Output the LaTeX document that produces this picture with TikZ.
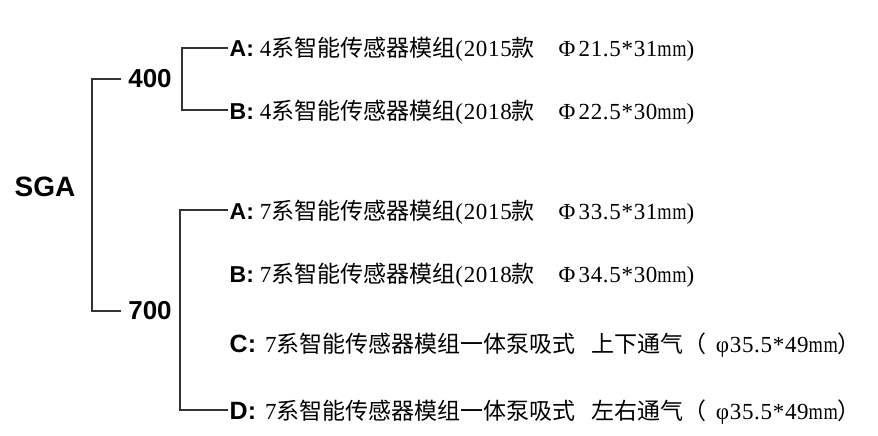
\documentclass[tikz,border=0pt]{standalone}
\usepackage{fontspec}
\setmainfont{Liberation Serif}[LetterSpace=3]
\setsansfont{Liberation Sans}
\newfontfamily\cjk{Noto Sans CJK SC}
\usetikzlibrary{positioning}

\newcommand\zh[1]{{\cjk #1}}
\newcommand\mm{\scalebox{.8}[1]{mm}}
\newcommand\phibox{\makebox[1em]{Φ}}
\newcommand\tagab[1]{{\sffamily\bfseries #1:}\hspace{6pt}}
\newcommand\tagcd[1]{{\sffamily\bfseries\fontsize{25}{25}\selectfont #1:}\hspace{9pt}}

\tikzset{
  branch/.style={draw=black!80, line width=1.1pt},
  level/.style={inner sep=0pt, font=\sffamily\bfseries\fontsize{26}{26}\selectfont},
  item/.style={anchor=west, inner xsep=1.5pt, inner ysep=0pt, text height=18pt, text depth=0pt, font=\fontsize{23}{23}\selectfont},
}

\begin{document}
\begin{tikzpicture}[x=1pt,y=-1pt]
  \useasboundingbox (0,0) rectangle (878,436);
  % tree levels
  \node[level, font=\sffamily\bfseries\fontsize{28}{28}\selectfont] (sga) at (45,187) {SGA};
  \node[level] (n400) at (150,79) {400};
  \node[level] (n700) at (150,311) {700};
  % 400 series
  \node[item] (a4) at (228,48) {\tagab{A}4\zh{系智能传感器模组}(2015\zh{款}\hspace{.9em}\phibox 21.5*31\mm)};
  \node[item] (b4) at (228,110) {\tagab{B}4\zh{系智能传感器模组}(2018\zh{款}\hspace{.9em}\phibox 22.5*30\mm)};
  % 700 series
  \node[item] (a7) at (228,210) {\tagab{A}7\zh{系智能传感器模组}(2015\zh{款}\hspace{.9em}\phibox 33.5*31\mm)};
  \node[item] (b7) at (228,273) {\tagab{B}7\zh{系智能传感器模组}(2018\zh{款}\hspace{.9em}\phibox 34.5*30\mm)};
  \node[item] (c7) at (228,343) {\tagcd{C}7\zh{系智能传感器模组一体泵吸式}\hspace{.7em}\zh{上下通气（}\hspace{.4em}φ35.5*49\mm\zh{）}};
  \node[item] (d7) at (228,410) {\tagcd{D}7\zh{系智能传感器模组一体泵吸式}\hspace{.7em}\zh{左右通气（}\hspace{.4em}φ35.5*49\mm\zh{）}};
  % brackets
  \coordinate (j0) at (92,187);
  \coordinate (j4) at (182,79);
  \coordinate (j7) at (180,311);
  \draw[branch] ([xshift=-7pt]n400.west) -| (j0) |- ([xshift=-7pt]n700.west);
  \draw[branch] (a4.west) -| (j4) |- (b4.west);
  \draw[branch] (a7.west) -| (j7) |- (d7.west);
\end{tikzpicture}
\end{document}
